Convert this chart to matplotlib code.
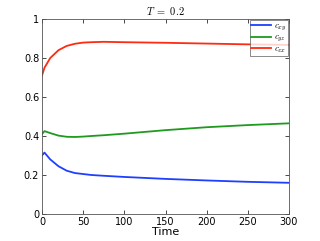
import numpy as np
import matplotlib.pyplot as plt

plt.rcParams["mathtext.fontset"] = "cm"

# values
t = [0, 3, 10, 20, 30, 40, 50, 60, 75, 100, 150, 200, 250, 300]
c_xy = [0.30, 0.315, 0.28, 0.245, 0.222, 0.210, 0.205, 0.200, 0.196, 0.190, 0.180, 0.172, 0.165, 0.160]
c_yz = [0.41, 0.425, 0.415, 0.402, 0.396, 0.395, 0.397, 0.400, 0.404, 0.412, 0.430, 0.445, 0.456, 0.465]
c_zx = [0.71, 0.75, 0.80, 0.84, 0.862, 0.873, 0.879, 0.881, 0.883, 0.881, 0.878, 0.874, 0.870, 0.867]

fig = plt.figure(figsize=(3.2, 2.41), dpi=100)
ax = fig.add_axes([42 / 320, 1 - 214 / 241, (289 - 42) / 320, (214 - 19) / 241])

ax.plot(t, c_xy, color="#1f3fff", lw=1.3, label=r"$c_{xy}$")
ax.plot(t, c_yz, color="#1f9a1f", lw=1.3, label=r"$c_{yz}$")
ax.plot(t, c_zx, color="#ff2a10", lw=1.3, label=r"$c_{zx}$")

ax.set_xlim(0, 300)
ax.set_ylim(0, 1)
ax.set_xticks([0, 50, 100, 150, 200, 250, 300])
ax.set_yticks([0, 0.2, 0.4, 0.6, 0.8, 1])
ax.set_yticklabels(["0", "0.2", "0.4", "0.6", "0.8", "1"])
ax.tick_params(direction="in", top=True, right=True, labelsize=7, length=3, width=0.5, pad=2)
for s in ax.spines.values():
    s.set_linewidth(0.6)
    s.set_color("#555555")
ax.set_xlabel("Time", fontsize=8, labelpad=0)
ax.set_title(r"$T\ =\ 0.2$", fontsize=7.5, pad=3)

leg = ax.legend(loc="upper right", fontsize=6.5, fancybox=False, handlelength=2.2,
                borderaxespad=0.15, borderpad=0.1, labelspacing=0.0, handletextpad=0.4)
leg.get_frame().set_edgecolor("#555555")
leg.get_frame().set_linewidth(0.6)

fig.savefig("out.png", dpi=100)
